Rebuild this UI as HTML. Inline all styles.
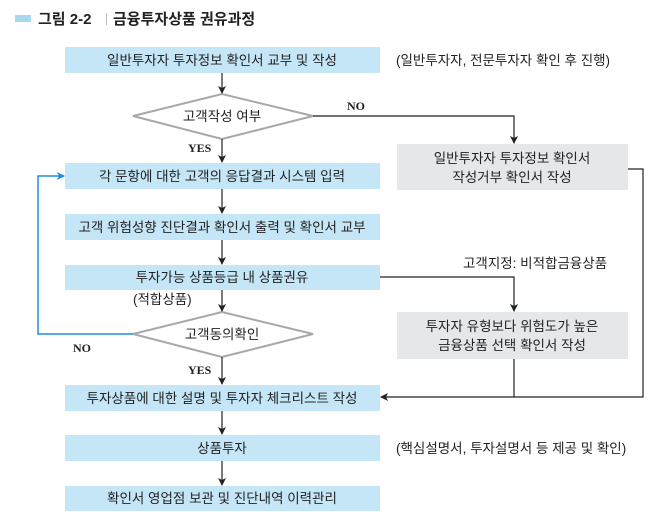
<!DOCTYPE html>
<html><head><meta charset="utf-8"><style>
html,body{margin:0;padding:0;background:#fff;}
svg{display:block;font-family:"Liberation Sans","Noto Sans CJK KR",sans-serif;}
</style></head><body>
<svg width="670" height="527" viewBox="0 0 670 527" xmlns="http://www.w3.org/2000/svg">
<defs>
<marker id="a" markerWidth="8" markerHeight="8" refX="7" refY="4" orient="auto" markerUnits="userSpaceOnUse"><path d="M0,0 L8,4 L0,8 L2,4 z" fill="#222"/></marker>
<marker id="b" markerWidth="8" markerHeight="8" refX="7" refY="4" orient="auto" markerUnits="userSpaceOnUse"><path d="M0,0 L8,4 L0,8 L2,4 z" fill="#1e8fd6"/></marker>
</defs>
<rect x="15" y="15" width="16" height="7" fill="#a6d8f0"/>
<text x="38" y="24" font-size="15" font-weight="bold" fill="#222">그림 2-2</text>
<rect x="106" y="13" width="1" height="12" fill="#bbb"/>
<text x="113" y="24" font-size="15" font-weight="bold" fill="#222">금융투자상품 권유과정</text>

<g fill="#c5e6f7">
<rect x="65" y="47" width="315" height="26"/>
<rect x="65" y="163" width="315" height="26"/>
<rect x="65" y="214" width="315" height="26"/>
<rect x="65" y="265" width="315" height="25"/>
<rect x="65" y="385" width="315" height="26"/>
<rect x="65" y="435" width="315" height="26"/>
<rect x="65" y="486" width="315" height="25"/>
</g>
<g fill="#e6e7e8">
<rect x="397" y="144" width="231" height="46"/>
<rect x="397" y="312" width="231" height="47"/>
</g>
<polygon points="133,116 222,94 313,116 222,139" fill="#fff" stroke="#a8a8a8" stroke-width="2"/>
<polygon points="133,334 222,312 313,334 222,357" fill="#fff" stroke="#a8a8a8" stroke-width="2"/>

<g stroke="#222" stroke-width="1.2" fill="none">
<line x1="222" y1="73" x2="222" y2="93" marker-end="url(#a)"/>
<line x1="222" y1="139" x2="222" y2="162" marker-end="url(#a)"/>
<line x1="222" y1="189" x2="222" y2="213" marker-end="url(#a)"/>
<line x1="222" y1="240" x2="222" y2="264" marker-end="url(#a)"/>
<line x1="222" y1="290" x2="222" y2="311" marker-end="url(#a)"/>
<line x1="222" y1="357" x2="222" y2="384" marker-end="url(#a)"/>
<line x1="222" y1="411" x2="222" y2="434" marker-end="url(#a)"/>
<line x1="222" y1="461" x2="222" y2="485" marker-end="url(#a)"/>
<polyline points="313,116 514,116 514,143" marker-end="url(#a)"/>
<polyline points="380,277 514,277 514,311" marker-end="url(#a)"/>
<polyline points="628,169 643,169 643,397 381,397" marker-end="url(#a)"/>
<line x1="514" y1="359" x2="514" y2="397"/>
</g>
<polyline points="133,334 38,334 38,176 64,176" fill="none" stroke="#1e8fd6" stroke-width="1.5" marker-end="url(#b)"/>

<g font-size="13.5" fill="#222" text-anchor="middle">
<text x="222" y="65">일반투자자 투자정보 확인서 교부 및 작성</text>
<text x="222" y="121">고객작성 여부</text>
<text x="222" y="181">각 문항에 대한 고객의 응답결과 시스템 입력</text>
<text x="222" y="232">고객 위험성향 진단결과 확인서 출력 및 확인서 교부</text>
<text x="222" y="282">투자가능 상품등급 내 상품권유</text>
<text x="222" y="339">고객동의확인</text>
<text x="222" y="403">투자상품에 대한 설명 및 투자자 체크리스트 작성</text>
<text x="222" y="453">상품투자</text>
<text x="222" y="503">확인서 영업점 보관 및 진단내역 이력관리</text>
<text x="512" y="163">일반투자자 투자정보 확인서</text>
<text x="512" y="182">작성거부 확인서 작성</text>
<text x="512" y="331">투자자 유형보다 위험도가 높은</text>
<text x="512" y="350">금융상품 선택 확인서 작성</text>
</g>
<g font-size="13.5" fill="#222">
<text x="396" y="65">(일반투자자, 전문투자자 확인 후 진행)</text>
<text x="396" y="453">(핵심설명서, 투자설명서 등 제공 및 확인)</text>
<text x="463" y="268">고객지정: 비적합금융상품</text>
<text x="133" y="304">(적합상품)</text>
</g>
<g font-size="12" fill="#222" font-weight="bold" font-family="Liberation Serif,serif">
<text x="347" y="110">NO</text>
<text x="188" y="152">YES</text>
<text x="73" y="352">NO</text>
<text x="188" y="374">YES</text>
</g>
</svg>
</body></html>
